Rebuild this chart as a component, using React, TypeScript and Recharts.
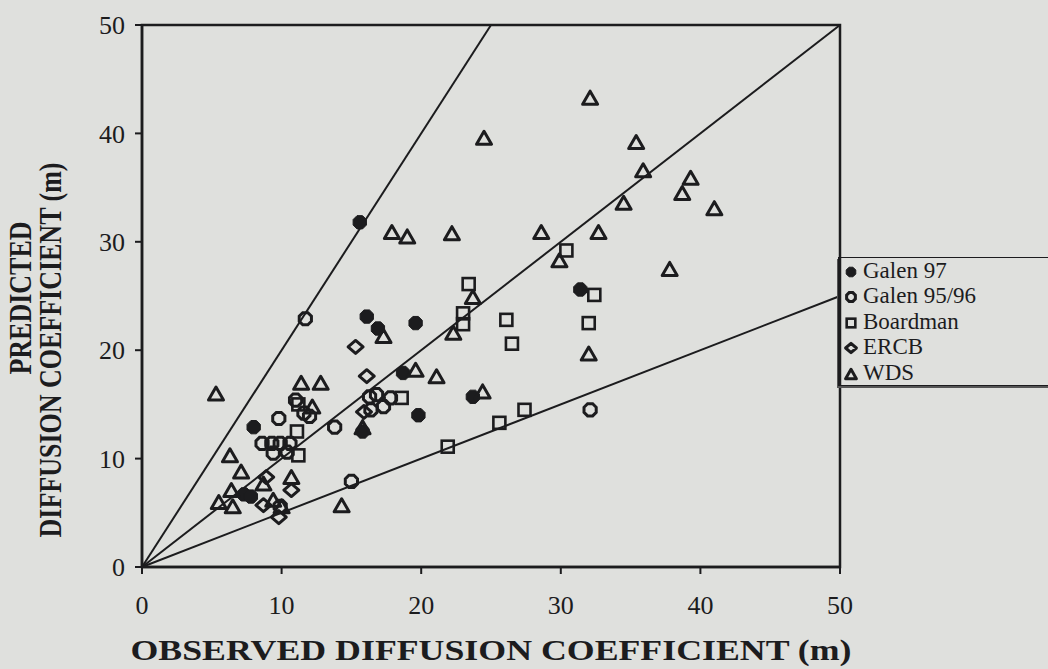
import React from "react";
import {
  ScatterChart,
  Scatter,
  XAxis,
  YAxis,
  ReferenceLine,
  ReferenceArea,
  Label,
} from "recharts";

const xTicks = [0, 10, 20, 30, 40, 50];
const yTicks = [0, 10, 20, 30, 40, 50];
// predicted / observed ratios of the guide lines (2:1, 1:1, 1:2)
const guideRatios = [2, 1, 0.5];

const galen97: [number, number][] = [
  [15.6, 31.8], [16.1, 23.1], [16.9, 22.0], [19.6, 22.5], [18.7, 17.9],
  [19.8, 14.0], [23.7, 15.7], [31.4, 25.6], [15.8, 12.5], [8.0, 12.9],
  [7.3, 6.7], [7.8, 6.5],
];
const galen9596: [number, number][] = [
  [11.7, 22.9], [11.0, 15.4], [12.0, 13.9], [9.8, 13.7], [11.6, 14.2],
  [13.8, 12.9], [15.0, 7.9], [32.1, 14.5], [16.3, 15.7], [16.8, 15.9],
  [17.3, 14.8], [17.8, 15.6], [16.4, 14.5], [8.6, 11.4], [9.3, 11.4],
  [9.9, 11.4], [10.6, 11.4], [9.4, 10.5], [10.4, 10.6], [9.9, 5.6],
];
const boardman: [number, number][] = [
  [30.4, 29.2], [23.4, 26.1], [23.0, 23.4], [23.0, 22.4], [32.4, 25.1],
  [26.1, 22.8], [32.0, 22.5], [26.5, 20.6], [25.6, 13.3], [27.4, 14.5],
  [21.9, 11.1], [18.6, 15.6], [11.1, 12.5], [11.2, 10.3], [11.2, 15.0],
];
const ercb: [number, number][] = [
  [15.3, 20.3], [16.1, 17.6], [15.9, 14.3], [10.7, 7.1], [8.9, 8.3],
  [8.7, 5.7], [9.8, 4.6],
];
const wds: [number, number][] = [
  [32.1, 43.3], [24.5, 39.6], [35.4, 39.2], [35.9, 36.6], [39.3, 35.9],
  [38.7, 34.5], [41.0, 33.1], [34.5, 33.6], [28.6, 30.9], [32.7, 30.9],
  [29.9, 28.3], [37.8, 27.5], [23.7, 24.9], [32.0, 19.7], [24.4, 16.2],
  [17.9, 30.9], [19.0, 30.5], [22.2, 30.8], [17.3, 21.3], [22.3, 21.6],
  [5.3, 16.0], [11.4, 17.0], [12.8, 17.0], [12.2, 14.8], [19.6, 18.2],
  [21.1, 17.6], [6.3, 10.3], [7.1, 8.8], [8.7, 7.7], [10.7, 8.3],
  [6.4, 7.1], [5.5, 6.0], [6.5, 5.6], [9.4, 6.2], [10.0, 5.6],
  [14.3, 5.7], [15.8, 12.9],
];

const INK = "#1c1c1e";
const BG = "#dfe0dd";
const FONT = '"Liberation Serif", "Times New Roman", serif';

const toPoints = (pts: [number, number][]) => pts.map(([x, y]) => ({ x, y }));

function octagon(cx: number, cy: number, r: number) {
  const pts: string[] = [];
  for (let i = 0; i < 8; i++) {
    const a = (Math.PI / 8) * (2 * i + 1);
    pts.push(`${cx + r * Math.cos(a)},${cy + r * Math.sin(a)}`);
  }
  return pts.join(" ");
}

type MarkProps = { cx?: number; cy?: number; scale?: number };

const FilledOct = ({ cx = 0, cy = 0, scale = 1 }: MarkProps) => (
  <polygon points={octagon(cx, cy, 7.2 * scale)} fill={INK} stroke={INK} strokeWidth={1} />
);
const OpenOct = ({ cx = 0, cy = 0, scale = 1 }: MarkProps) => (
  <polygon points={octagon(cx, cy, 6.6 * scale)} fill="none" stroke={INK} strokeWidth={3} />
);
const OpenSquare = ({ cx = 0, cy = 0, scale = 1 }: MarkProps) => {
  const s = 6 * scale;
  return (
    <rect x={cx - s} y={cy - s} width={2 * s} height={2 * s} fill="none" stroke={INK} strokeWidth={2.6} />
  );
};
const OpenDiamond = ({ cx = 0, cy = 0, scale = 1 }: MarkProps) => {
  const w = 7.5 * scale;
  const h = 6.5 * scale;
  return (
    <polygon
      points={`${cx},${cy - h} ${cx + w},${cy} ${cx},${cy + h} ${cx - w},${cy}`}
      fill="none"
      stroke={INK}
      strokeWidth={3}
      strokeLinejoin="round"
    />
  );
};
const OpenTriangle = ({ cx = 0, cy = 0, scale = 1 }: MarkProps) => {
  const w = 7.5 * scale;
  const h = 6.5 * scale;
  return (
    <polygon
      points={`${cx},${cy - h} ${cx + w},${cy + h} ${cx - w},${cy + h}`}
      fill="none"
      stroke={INK}
      strokeWidth={3}
      strokeLinejoin="round"
    />
  );
};

const series = [
  { name: "Galen 97", data: galen97, Shape: FilledOct },
  { name: "Galen 95/96", data: galen9596, Shape: OpenOct },
  { name: "Boardman", data: boardman, Shape: OpenSquare },
  { name: "ERCB", data: ercb, Shape: OpenDiamond },
  { name: "WDS", data: wds, Shape: OpenTriangle },
];

const XTick = ({ x, y, payload }: any) => (
  <text x={x} y={y} textAnchor="middle" dy="0.71em" fontFamily={FONT} fontSize={26} fill={INK}>
    {payload.value}
  </text>
);

const YTick = ({ x, y, payload }: any) => (
  <text x={x} y={y} textAnchor="end" dy="0.35em" fontFamily={FONT} fontSize={26} fill={INK}>
    {payload.value}
  </text>
);

const XTitle = ({ viewBox }: any) => (
  <text
    x={viewBox.x + viewBox.width / 2}
    y={viewBox.y + 93}
    textAnchor="middle"
    fontFamily={FONT}
    fontWeight="bold"
    fontSize={29}
    fill={INK}
    textLength={721}
    lengthAdjust="spacingAndGlyphs"
  >
    OBSERVED DIFFUSION COEFFICIENT (m)
  </text>
);

const YTitle = () => (
  <g fontFamily={FONT} fontWeight="bold" fontSize={26} fill={INK}>
    <text transform="translate(31,298) rotate(-90) scale(1,1.2)" textAnchor="middle">
      PREDICTED
    </text>
    <text transform="translate(61,350) rotate(-90) scale(1,1.2)" textAnchor="middle">
      DIFFUSION COEFFICIENT (m)
    </text>
  </g>
);

function LegendBox() {
  return (
    <div
      style={{
        position: "absolute",
        left: 838,
        top: 257,
        width: 220,
        height: 129,
        border: `1.5px solid ${INK}`,
        boxShadow: `-1px 2px 0 #555`,
        paddingTop: 0,
        boxSizing: "border-box",
      }}
    >
      {series.map(({ name, Shape }) => (
        <div key={name} style={{ display: "flex", alignItems: "center", height: 25.5 }}>
          <svg width={22} height={22} style={{ marginLeft: 1 }}>
            <Shape cx={11} cy={12} scale={0.72} />
          </svg>
          <span
            style={{
              fontFamily: FONT,
              fontSize: 23,
              color: INK,
              lineHeight: "24px",
              marginLeft: 1,
            }}
          >
            {name}
          </span>
        </div>
      ))}
    </div>
  );
}

export default function App() {
  return (
    <div
      style={{
        position: "absolute",
        left: 0,
        top: 0,
        width: 1048,
        height: 669,
        background: BG,
        overflow: "hidden",
      }}
    >
      <ScatterChart
        width={1048}
        height={669}
        margin={{ top: 25, right: 208, bottom: 0, left: 0 }}
      >
        <XAxis
          type="number"
          dataKey="x"
          domain={[0, 50]}
          ticks={xTicks}
          interval={0}
          height={102}
          axisLine={{ stroke: INK, strokeWidth: 2.5 }}
          tickLine={{ stroke: INK, strokeWidth: 2 }}
          tickSize={7}
          tickMargin={22}
          tick={<XTick />}
        >
          <Label content={<XTitle />} />
        </XAxis>
        <YAxis
          type="number"
          dataKey="y"
          domain={[0, 50]}
          ticks={yTicks}
          interval={0}
          width={142}
          axisLine={{ stroke: INK, strokeWidth: 2.5 }}
          tickLine={{ stroke: INK, strokeWidth: 2 }}
          tickSize={7}
          tickMargin={10}
          tick={<YTick />}
        >
          <Label content={<YTitle />} />
        </YAxis>
        <ReferenceArea
          x1={0}
          x2={50}
          y1={0}
          y2={50}
          fill="none"
          stroke={INK}
          strokeWidth={2.5}
        />
        {guideRatios.map((r) => {
          const xEnd = Math.min(50, 50 / r);
          return (
            <ReferenceLine
              key={r}
              segment={[
                { x: 0, y: 0 },
                { x: xEnd, y: xEnd * r },
              ]}
              stroke={INK}
              strokeWidth={2}
            />
          );
        })}
        {series.map(({ name, data, Shape }) => (
          <Scatter
            key={name}
            name={name}
            data={toPoints(data)}
            isAnimationActive={false}
            shape={(p: any) => <Shape cx={p.cx} cy={p.cy} />}
          />
        ))}
      </ScatterChart>
      <LegendBox />
    </div>
  );
}
